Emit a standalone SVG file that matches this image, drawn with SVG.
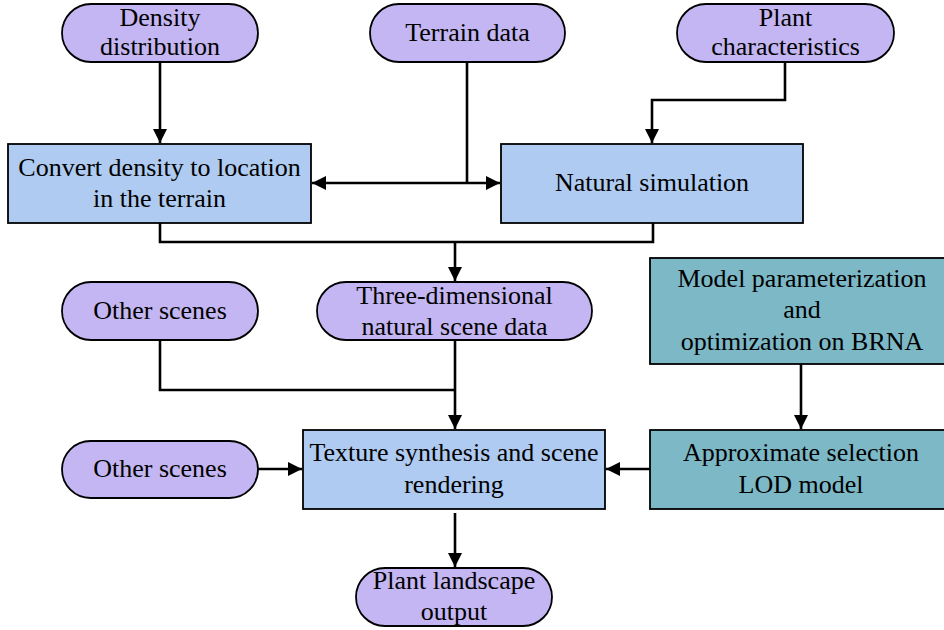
<svg xmlns="http://www.w3.org/2000/svg" width="944" height="630" viewBox="0 0 944 630">
<style>
.pill{fill:#C3B6F2;stroke:#000;stroke-width:1.8}
.blue{fill:#AFCBF1;stroke:#000;stroke-width:1.8}
.teal{fill:#7DB8C7;stroke:#000;stroke-width:1.8}
.c{fill:none;stroke:#000;stroke-width:2.6}
</style>
<defs>
<marker id="ah" viewBox="0 0 10 10" refX="10" refY="5" markerWidth="5.4" markerHeight="5.4" markerUnits="strokeWidth" orient="auto">
<path d="M0,0 L10,5 L0,10 Z" fill="#000"/>
</marker>
</defs>
<rect width="944" height="630" fill="#fff"/>
<g id="connectors">
<path class="c" d="M160,62 V143" marker-end="url(#ah)"/>
<path class="c" d="M467,62 V183"/>
<path class="c" d="M467,183 H312" marker-end="url(#ah)"/>
<path class="c" d="M467,183 H500" marker-end="url(#ah)"/>
<path class="c" d="M785,62 V100 H652 V143" marker-end="url(#ah)"/>
<path class="c" d="M160,223 V242 H653 V223"/>
<path class="c" d="M455,242 V281" marker-end="url(#ah)"/>
<path class="c" d="M160,340 V390 H455"/>
<path class="c" d="M455,340 V429" marker-end="url(#ah)"/>
<path class="c" d="M258,469 H302" marker-end="url(#ah)"/>
<path class="c" d="M801,364 V429" marker-end="url(#ah)"/>
<path class="c" d="M650,469 H606" marker-end="url(#ah)"/>
<path class="c" d="M455,513 V567" marker-end="url(#ah)"/>
</g>
<g font-family="'Liberation Serif', 'Times New Roman', serif" font-size="26" text-anchor="middle" fill="#000">
<g id="density">
<rect class="pill" x="62" y="4" width="196" height="58" rx="29"/>
<text x="160" y="26">Density</text>
<text x="160" y="55">distribution</text>
</g>
<g id="terrain">
<rect class="pill" x="370" y="4" width="195" height="58" rx="29"/>
<text x="467.5" y="41">Terrain data</text>
</g>
<g id="plant">
<rect class="pill" x="677" y="4" width="217" height="58" rx="29"/>
<text x="785.5" y="26">Plant</text>
<text x="785.5" y="55">characteristics</text>
</g>
<g id="convert">
<rect class="blue" x="8" y="144" width="303" height="79"/>
<text x="159.5" y="176">Convert density to location</text>
<text x="159.5" y="207">in the terrain</text>
</g>
<g id="natural">
<rect class="blue" x="501" y="144" width="302" height="79"/>
<text x="652" y="191">Natural simulation</text>
</g>
<g id="other1">
<rect class="pill" x="62" y="282" width="196" height="58" rx="29"/>
<text x="160" y="319">Other scenes</text>
</g>
<g id="threed">
<rect class="pill" x="317" y="282" width="275" height="58" rx="29"/>
<text x="454.5" y="304">Three-dimensional</text>
<text x="454.5" y="335">natural scene data</text>
</g>
<g id="model">
<rect class="teal" x="650" y="258" width="300" height="106"/>
<text x="802" y="287">Model parameterization</text>
<text x="802" y="318">and</text>
<text x="802" y="350">optimization on BRNA</text>
</g>
<g id="texture">
<rect class="blue" x="303" y="430" width="302" height="79"/>
<text x="454" y="461">Texture synthesis and scene</text>
<text x="454" y="493">rendering</text>
</g>
<g id="approx">
<rect class="teal" x="650" y="430" width="300" height="79"/>
<text x="801" y="461">Approximate selection</text>
<text x="801" y="493">LOD model</text>
</g>
<g id="other2">
<rect class="pill" x="62" y="441" width="196" height="57" rx="28.5"/>
<text x="160" y="477">Other scenes</text>
</g>
<g id="output">
<rect class="pill" x="356" y="568" width="196" height="58" rx="29"/>
<text x="454" y="589">Plant landscape</text>
<text x="454" y="620">output</text>
</g>
</g>
</svg>
